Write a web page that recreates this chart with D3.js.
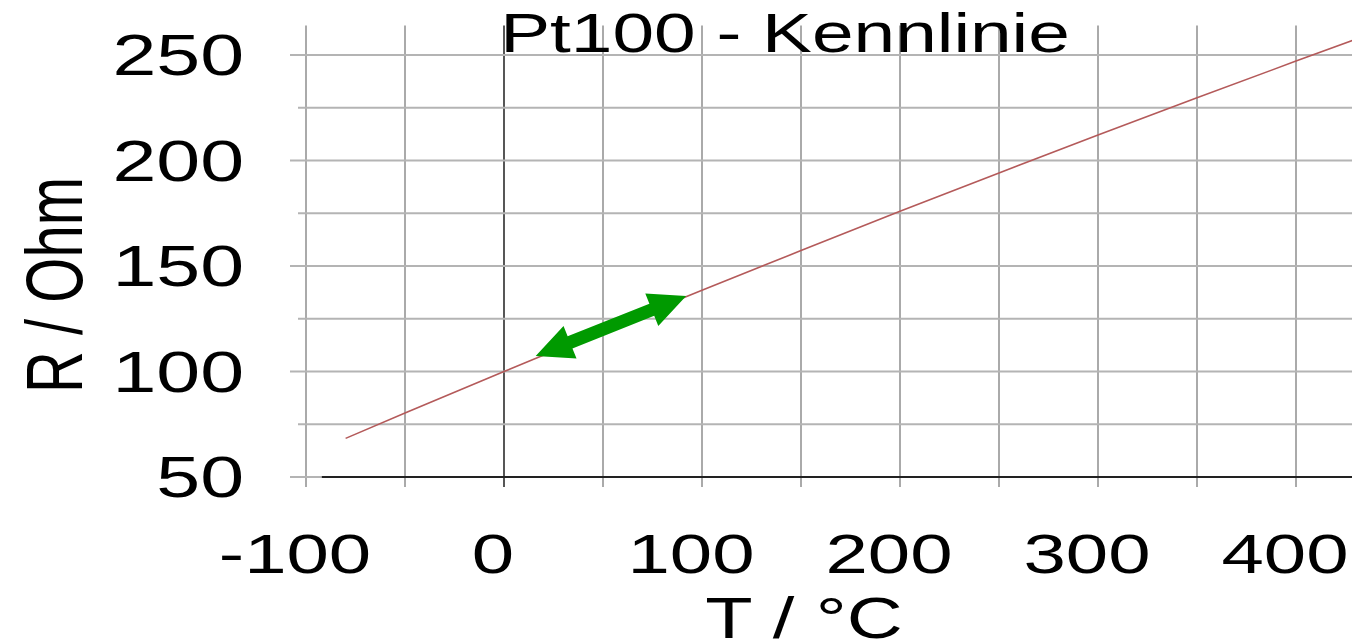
<!DOCTYPE html>
<html>
<head>
<meta charset="utf-8">
<script src="https://cdn.jsdelivr.net/npm/d3@7"></script>
<style>
  html, body { margin: 0; padding: 0; background: #fff; }
  svg { display: block; }
  text { font-family: "Liberation Sans", Arial, sans-serif; fill: #000; }
</style>
</head>
<body>
<svg id="chart" width="1352" height="641"></svg>
<script>
// ---- data ----
const temps  = [-80, -50, 0, 50, 100, 150, 200, 250, 300, 350, 400, 430];
const resist = [68.3, 80.3, 100.0, 119.4, 138.5, 157.3, 175.9, 194.1, 212.1, 229.7, 247.1, 257.4];
const xTicks = [-100, 0, 100, 200, 300, 400];
const xGrid  = [-100, -50, 0, 50, 100, 150, 200, 250, 300, 350, 400];
const yTicks = [50, 100, 150, 200, 250];
const yGrid  = [50, 75, 100, 125, 150, 175, 200, 225, 250];
const arrowFrom = [16, 107.3];
const arrowTo   = [92, 135.8];
const title = "Pt100 - Kennlinie";
const xLabel = "T / °C";
const yLabel = "R / Ohm";

// ---- layout ----
const W = 1352, H = 641;
const SX = 1.36; // horizontal stretch of glyphs
const svg = d3.select("#chart");
const x = d3.scaleLinear().domain([-100, 400]).range([306, 1296]);
const y = d3.scaleLinear().domain([50, 250]).range([477, 55]);
const gridTop = y(264), gridBottom = y(50) + 10;
const rightEdge = W;

// vertical grid lines
svg.append("g").selectAll("line").data(xGrid).join("line")
  .attr("x1", d => x(d)).attr("x2", d => x(d))
  .attr("y1", gridTop).attr("y2", gridBottom)
  .attr("stroke", d => d === 0 ? "#444" : "#aaa")
  .attr("stroke-width", d => d === 0 ? 1.8 : 2);

// horizontal grid lines
svg.append("g").selectAll("line").data(yGrid).join("line")
  .attr("x1", d => x(-100) - (d % 50 === 0 ? 16 : 8))
  .attr("x2", rightEdge)
  .attr("y1", d => y(d)).attr("y2", d => y(d))
  .attr("stroke", "#b4b4b4")
  .attr("stroke-width", 1.8);

// bottom axis line (dark)
svg.append("line")
  .attr("x1", x(-92)).attr("x2", rightEdge)
  .attr("y1", y(50)).attr("y2", y(50))
  .attr("stroke", "#222").attr("stroke-width", 1.8);

// curve
const line = d3.line().x((d, i) => x(temps[i])).y((d, i) => y(resist[i]));
svg.append("path")
  .attr("d", line(temps))
  .attr("fill", "none")
  .attr("stroke", "#b45a5a")
  .attr("stroke-width", 1.6);

// green double arrow
(function () {
  const p1 = [x(arrowFrom[0]), y(arrowFrom[1])];
  const p2 = [x(arrowTo[0]), y(arrowTo[1])];
  const dx = p2[0] - p1[0], dy = p2[1] - p1[1];
  const L = Math.hypot(dx, dy);
  const ux = dx / L, uy = dy / L, nx = -uy, ny = ux;
  const hl = 37, hw = 17.5, sw = 6.5;
  const P = (base, along, perp) => [base[0] + ux * along + nx * perp, base[1] + uy * along + ny * perp];
  const pts = [
    p1,
    P(p1, hl, hw), P(p1, hl, sw),
    P(p2, -hl, sw), P(p2, -hl, hw),
    p2,
    P(p2, -hl, -hw), P(p2, -hl, -sw),
    P(p1, hl, -sw), P(p1, hl, -hw)
  ];
  svg.append("polygon")
    .attr("points", pts.map(p => p.join(",")).join(" "))
    .attr("fill", "#009a00");
})();

// y tick labels
svg.append("g").selectAll("text").data(yTicks).join("text")
  .attr("transform", d => `translate(244,${y(d)}) scale(${SX},1)`)
  .attr("text-anchor", "end")
  .attr("dy", "0.35em")
  .attr("font-size", 58)
  .text(d => String(d));

// x tick labels
svg.append("g").selectAll("text").data(xTicks).join("text")
  .attr("transform", d => `translate(${x(d) - 11},573) scale(${SX},1)`)
  .attr("text-anchor", "middle")
  .attr("font-size", 56)
  .text(d => String(d));

// title
svg.append("text")
  .attr("transform", `translate(785,52) scale(${SX},1)`)
  .attr("text-anchor", "middle")
  .attr("font-size", 55)
  .text(title);

// x label
svg.append("text")
  .attr("transform", `translate(804,638) scale(${SX},1)`)
  .attr("text-anchor", "middle")
  .attr("font-size", 57)
  .text(xLabel);

// y label
svg.append("text")
  .attr("transform", `translate(82,285) scale(${SX},1) rotate(-90)`)
  .attr("text-anchor", "middle")
  .attr("font-size", 58)
  .text(yLabel);
</script>
</body>
</html>
